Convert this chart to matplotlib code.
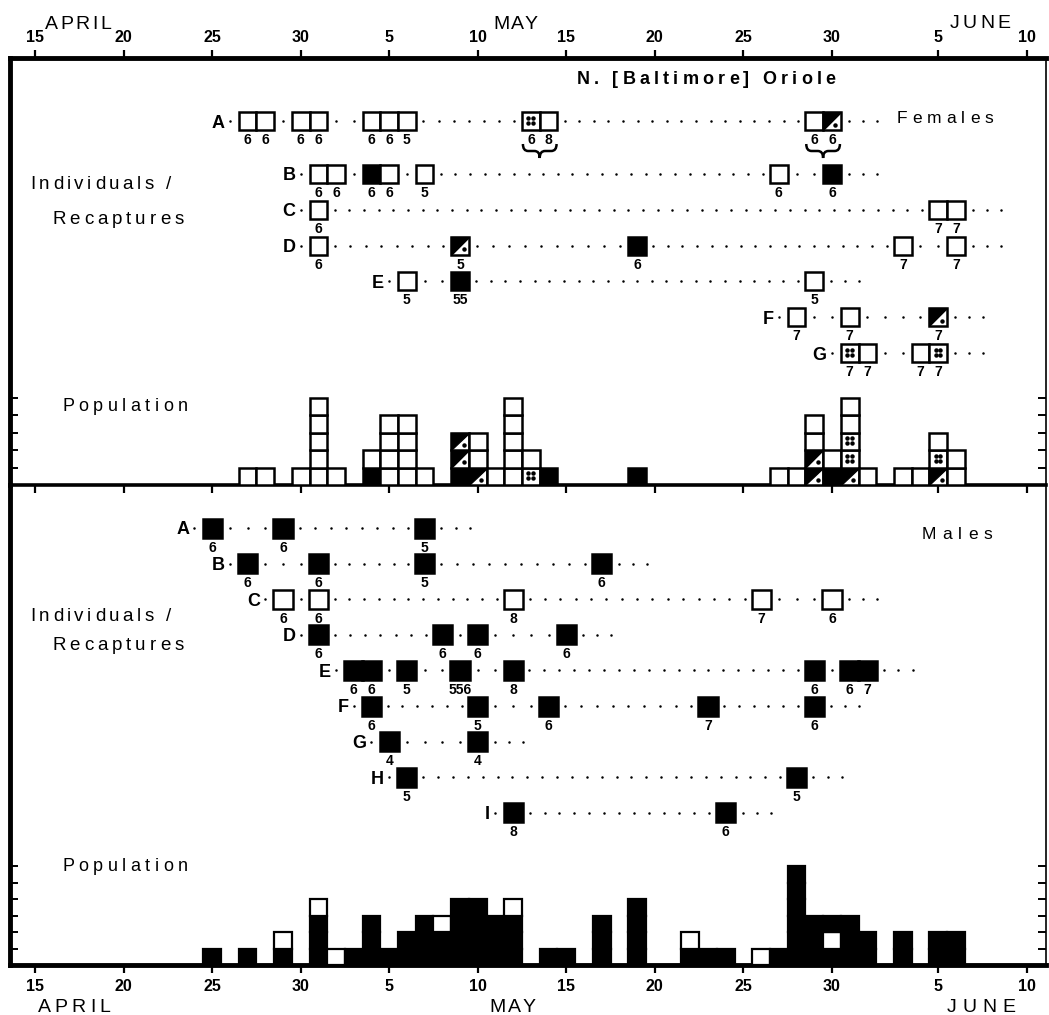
import datetime as dt
import numpy as np
import matplotlib
matplotlib.use("Agg")
import matplotlib.pyplot as plt
from matplotlib.patches import Rectangle, Polygon, PathPatch
from matplotlib.path import Path
from matplotlib.font_manager import FontProperties

FAMILY = ["Liberation Sans", "DejaVu Sans"]
plt.rcParams["font.family"] = FAMILY

W, H = 1049, 1015
START = dt.date(1980, 4, 15)


def day(s):
    m, d = s.split("/")
    return (dt.date(1980, int(m), int(d)) - START).days


# axis ticks
tick_dates = ["4/15", "4/20", "4/25", "4/30", "5/5", "5/10", "5/15", "5/20",
              "5/25", "5/30", "6/5", "6/10"]
tick_labels = [s.split("/")[1] for s in tick_dates]
months = ["APRIL", "MAY", "JUNE"]

# females - individuals / recaptures (w=white, b=black, t=half, d=dotted)
fem_ids = ["A", "B", "C", "D", "E", "F", "G"]
fem_dates = [
    ["4/27", "4/28", "4/30", "5/1", "5/4", "5/5", "5/6", "5/13", "5/14", "5/29", "5/30"],
    ["5/1", "5/2", "5/4", "5/5", "5/7", "5/27", "5/30"],
    ["5/1", "6/5", "6/6"],
    ["5/1", "5/9", "5/19", "6/3", "6/6"],
    ["5/6", "5/9", "5/29"],
    ["5/28", "5/31", "6/5"],
    ["5/31", "6/1", "6/4", "6/5"],
]
fem_kinds = ["wwwwwwwdwwt", "wwbwwwb", "www", "wtbww", "wbw", "wwt", "dwwd"]
fem_ages = ["6 6 6 6 6 6 5 6 8 6 6", "6 6 6 6 5 6 6", "6 7 7", "6 5 6 7 7",
            "5 55 5", "7 7 7", "7 7 7 7"]
fem_braces = [("A", "5/13", "5/14"), ("A", "5/29", "5/30")]

# females - population (stack from bottom up)
fem_pop_dates = ["4/27", "4/28", "4/30", "5/1", "5/2", "5/4", "5/5", "5/6", "5/7",
                 "5/9", "5/10", "5/11", "5/12", "5/13", "5/14", "5/19", "5/27",
                 "5/28", "5/29", "5/30", "5/31", "6/1", "6/3", "6/4", "6/5", "6/6"]
fem_pop_stack = ["w", "w", "w", "wwwww", "w", "bw", "wwww", "wwww", "w",
                 "btt", "tww", "w", "wwwww", "dw", "b", "b", "w",
                 "w", "ttww", "bw", "tddww", "w", "w", "w", "tdw", "ww"]

# males - individuals / recaptures
male_ids = ["A", "B", "C", "D", "E", "F", "G", "H", "I"]
male_dates = [
    ["4/25", "4/29", "5/7"],
    ["4/27", "5/1", "5/7", "5/17"],
    ["4/29", "5/1", "5/12", "5/26", "5/30"],
    ["5/1", "5/8", "5/10", "5/15"],
    ["5/3", "5/4", "5/6", "5/9", "5/12", "5/29", "5/31", "6/1"],
    ["5/4", "5/10", "5/14", "5/23", "5/29"],
    ["5/5", "5/10"],
    ["5/6", "5/28"],
    ["5/12", "5/24"],
]
male_kinds = ["bbb", "bbbb", "wwwww", "bbbb", "bbbbbbbb", "bbbbb", "bb", "bb", "bb"]
male_ages = ["6 6 5", "6 6 5 6", "6 6 8 7 6", "6 6 6 6", "6 6 5 556 8 6 6 7",
             "6 5 6 7 6", "4 4", "5 5", "8 6"]

# males - population
male_pop_dates = ["4/25", "4/27", "4/29", "5/1", "5/2", "5/3", "5/4", "5/5", "5/6",
                  "5/7", "5/8", "5/9", "5/10", "5/11", "5/12", "5/14", "5/15",
                  "5/17", "5/19", "5/22", "5/23", "5/24", "5/26", "5/27", "5/28",
                  "5/29", "5/30", "5/31", "6/1", "6/3", "6/5", "6/6"]
male_pop_stack = ["b", "b", "bw", "bbbw", "w", "b", "bbb", "b", "bb",
                  "bbb", "bbw", "bbbb", "bbbb", "bbb", "bbbw", "b", "b",
                  "bbb", "bbbb", "bw", "b", "b", "w", "b", "bbbbbb",
                  "bbb", "bwb", "bbb", "bb", "bb", "bb", "bb"]

# ---------------------------------------------------------------
fig = plt.figure(figsize=(W / 100, H / 100), dpi=100)
PX_DAY = 17.71
x_lo = -25 / PX_DAY
x_hi = (1046 - 35) / PX_DAY

U_F = 17.5   # px per bird, females
U_M = 16.5   # px per bird, males
ax1 = fig.add_axes([10 / W, 1 - 485 / H, 1036 / W, 427 / H])
ax2 = fig.add_axes([10 / W, 1 - 965 / H, 1036 / W, 480 / H])
ax1.set_ylim(0, 427 / U_F)
ax2.set_ylim(0, 480 / U_M)
for ax in (ax1, ax2):
    ax.set_xlim(x_lo, x_hi)
    ax.patch.set_visible(False)

ticks = [day(s) for s in tick_dates]
ax1.set_xticks(ticks)
ax1.set_xticklabels(tick_labels, fontweight="bold")
ax1.tick_params(axis="x", top=True, bottom=True, labeltop=True, labelbottom=False,
                direction="out", length=6, width=1.6, pad=3, labelsize=11.5)
ax2.set_xticks(ticks)
ax2.set_xticklabels(tick_labels, fontweight="bold")
ax2.tick_params(axis="x", top=False, bottom=True, direction="out", length=6,
                width=1.6, pad=4, labelsize=11.5)
ax1.set_yticks(range(1, 6))
ax2.set_yticks(range(1, 7))
for ax in (ax1, ax2):
    ax.tick_params(axis="y", left=True, right=True, labelleft=False, direction="in",
                   length=6, width=1.4)

ax1.spines["top"].set_linewidth(3.5)
ax1.spines["bottom"].set_linewidth(2.6)
ax2.spines["top"].set_visible(False)
ax2.spines["bottom"].set_linewidth(3.5)
for ax in (ax1, ax2):
    ax.spines["left"].set_linewidth(3.5)
    ax.spines["right"].set_linewidth(1.2)


def draw_box(ax, x, y, kind, w, h, lw):
    x0 = x - w / 2
    if kind == "b":
        ax.add_patch(Rectangle((x0, y), w, h, fc="black", ec="black", lw=lw, zorder=3))
        return
    ax.add_patch(Rectangle((x0, y), w, h, fc="white", ec="black", lw=lw, zorder=3))
    if kind == "t":
        ax.add_patch(Polygon([(x0, y), (x0, y + h), (x0 + w, y + h)], closed=True,
                             fc="black", ec="black", lw=lw * 0.5, zorder=3))
        ax.plot(x0 + 0.7 * w, y + 0.3 * h, "o", color="black", ms=2.2, zorder=4)
    if kind == "d":
        for dx in (0.36, 0.62):
            for dy in (0.4, 0.66):
                ax.plot(x0 + dx * w, y + dy * h, "o", color="black", ms=2.2, zorder=4)


def draw_rows(ax, ids, dates, kinds, ages, rows_y, unit, bw, bh_px, lw):
    bh = bh_px / unit
    for letter, ds, ks, ag, y in zip(ids, dates, kinds, ages, rows_y):
        days = [day(s) for s in ds]
        first, last = days[0], days[-1]
        # dotted trail
        dots = [first - 1]
        for a, b in zip(days[:-1], days[1:]):
            gap = b - a - 1
            if gap > 0:
                n = max(1, int(gap / 0.82))
                dots += list(a + 0.5 + (np.arange(n) + 0.5) * gap / n)
        dots += [last + 0.95, last + 1.75, last + 2.55]
        ax.plot(dots, [y] * len(dots), "o", color="black", ms=1.8, mew=0, zorder=2)
        ax.text(first - 1.3, y - 6.5 / unit, letter, ha="right", va="baseline",
                fontsize=13, fontweight="bold")
        for d, k, a in zip(days, ks, ag.split()):
            draw_box(ax, d, y - bh / 2, k, bw, bh, lw)
            ax.text(d, y - bh / 2 - 3 / unit, a, ha="center", va="top",
                    fontsize=10, fontweight="bold")


def draw_pop(ax, dates, stacks, lw):
    for s, st in zip(dates, stacks):
        d = day(s)
        for i, k in enumerate(st):
            draw_box(ax, d, i, k, 1.0, 1.0, lw)


# female rows
fem_px = [121] + [174 + 35.8 * i for i in range(len(fem_ids) - 1)]
fem_y = [(485 - p) / U_F for p in fem_px]
draw_rows(ax1, fem_ids, fem_dates, fem_kinds, fem_ages, fem_y, U_F, 1.0, 18, 1.8)
draw_pop(ax1, fem_pop_dates, fem_pop_stack, 1.8)

# braces
for letter, d0, d1 in fem_braces:
    y = fem_y[fem_ids.index(letter)]
    x0, x1 = day(d0) - 0.45, day(d1) + 0.45
    xm = (x0 + x1) / 2
    yt = y - (9 + 14) / U_F
    a, r = 7 / U_F, 0.3
    verts = [(x0, yt), (x0, yt - a), (x0 + r, yt - a), (xm - r, yt - a), (xm, yt - a),
             (xm, yt - 2 * a), (xm, yt - a), (xm + r, yt - a), (x1 - r, yt - a),
             (x1, yt - a), (x1, yt)]
    codes = [Path.MOVETO, Path.CURVE3, Path.CURVE3, Path.LINETO, Path.CURVE3,
             Path.CURVE3, Path.CURVE3, Path.CURVE3, Path.LINETO, Path.CURVE3, Path.CURVE3]
    ax1.add_patch(PathPatch(Path(verts, codes), fc="none", ec="black", lw=1.8))

# male rows
male_px = [528 + 35.6 * i for i in range(len(male_ids))]
male_y = [(965 - p) / U_M for p in male_px]
draw_rows(ax2, male_ids, male_dates, male_kinds, male_ages, male_y, U_M, 1.08, 19, 1.8)
draw_pop(ax2, male_pop_dates, male_pop_stack, 1.6)


# letter-spaced labels (pixel positions, y = centre of capitals)
def spaced(x, y, s, size, track, weight="normal", ha="left"):
    prop = FontProperties(family=FAMILY, size=size, weight=weight)
    r = fig.canvas.get_renderer()
    bar = r.get_text_width_height_descent("|", prop, ismath=False)[0]

    def wd(t):
        if not t:
            return 0.0
        return r.get_text_width_height_descent(t + "|", prop, ismath=False)[0] - bar

    total = wd(s) + track * (len(s) - 1)
    x0 = {"left": x, "center": x - total / 2, "right": x - total}[ha]
    base = y + 0.716 * size * 100 / 72 / 2
    for i, ch in enumerate(s):
        if ch == " ":
            continue
        fig.text((x0 + wd(s[:i]) + i * track) / W, 1 - base / H, ch,
                 fontproperties=prop, ha="left", va="baseline")


spaced(78, 22, months[0], 14, 2.5, ha="center")
spaced(515, 22, months[1], 14, 1.0, ha="center")
spaced(980, 21, months[2], 14, 3.5, ha="center")
spaced(74, 1005, months[0], 14, 4.0, ha="center")
spaced(512, 1005, months[1], 14, 2.0, ha="center")
spaced(981, 1005, months[2], 14, 6.0, ha="center")

spaced(706, 78, "N. [Baltimore] Oriole", 13, 4.2, weight="bold", ha="center")
spaced(945, 117, "Females", 12.5, 5.0, ha="center")
spaced(957, 533, "Males", 12.5, 6.0, ha="center")

spaced(30, 182, "Individuals /", 13.5, 3.5)
spaced(52, 217, "Recaptures", 13.5, 4.0)
spaced(62, 405, "Population", 13, 4.5)
spaced(30, 614, "Individuals /", 13.5, 3.5)
spaced(52, 643, "Recaptures", 13.5, 4.0)
spaced(62, 865, "Population", 13, 4.5)

fig.savefig("out.png", dpi=100)
